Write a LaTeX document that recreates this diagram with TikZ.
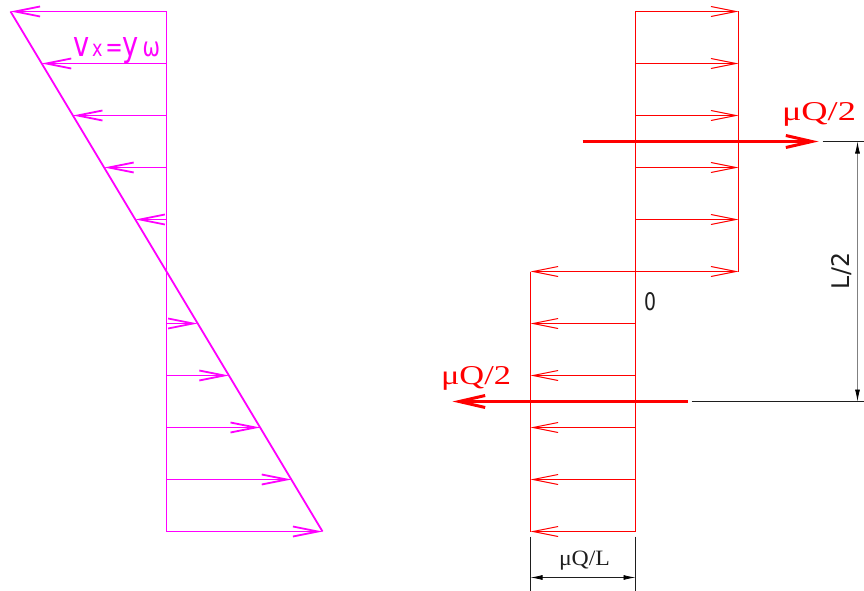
\documentclass[tikz,border=0pt]{standalone}
\usepackage{fontspec}
\setmainfont{Liberation Serif}
\newfontfamily\dvsans{DejaVu Sans}
\usetikzlibrary{arrows.meta}
\definecolor{mag}{RGB}{255,0,255}
\definecolor{rd}{RGB}{255,0,0}
\definecolor{dimgray}{RGB}{30,30,30}
\begin{document}
\begin{tikzpicture}[x=1pt,y=-1pt,
  thinarrow/.style={-{Straight Barb[length=25pt,width=10pt]}},
  magline/.style={color=mag,line width=1.8pt},
  redline/.style={color=rd,line width=1pt},
  bigarrow/.style={color=rd,line width=3pt,-{Straight Barb[length=26pt,width=12pt]}},
  dimline/.style={color=dimgray,line width=0.8pt},
  dimarrow/.style={dimline,{Latex[length=12pt,width=5pt,color=black]}-{Latex[length=12pt,width=5pt,color=black]}},
  lbl/.style={inner sep=0pt,outer sep=0pt}
]
\useasboundingbox (0,0) rectangle (864,591);
\begin{scope}[xshift=0.5pt,yshift=-0.5pt]
% ---------- left: velocity distribution ----------
\coordinate (mtop) at (166,11);
\coordinate (mbot) at (166,531);
\coordinate (dtl) at (10,11);
\coordinate (dbr) at (322,531);
\draw[magline] (mtop) -- (mbot);
\draw[magline] (dtl) -- (dbr);
\foreach \yy in {11,63,115,167,219}{
  \draw[magline,thinarrow] (166,\yy) -- ({166-0.6*(271-\yy)},\yy);
}
\foreach \yy in {323,375,427,479,531}{
  \draw[magline,thinarrow] (166,\yy) -- ({166+0.6*(\yy-271)},\yy);
}

% ---------- right: friction distribution ----------
\coordinate (rtop) at (635,11);
\coordinate (rbot) at (635,531);
\coordinate (urt) at (738,11);
\coordinate (urb) at (738,271);
\coordinate (llt) at (530,271);
\coordinate (llb) at (530,531);
\draw[redline] (rtop) -- (rbot);
\draw[redline] (urt) -- (urb);
\draw[redline] (llt) -- (llb);
\foreach \yy in {11,63,115,167,219,271}{
  \draw[redline,thinarrow] (635,\yy) -- (738,\yy);
}
\foreach \yy in {271,323,375,427,479,531}{
  \draw[redline,thinarrow] (635,\yy) -- (530,\yy);
}

% big resultant arrows
\coordinate (ua) at (582,141);
\coordinate (ub) at (818,141);
\coordinate (la) at (687,401);
\coordinate (lb) at (452,401);
\draw[bigarrow] (ua) -- (ub);
\draw[bigarrow] (la) -- (lb);

% vertical dimension L/2
\coordinate (e1a) at (822,141);
\coordinate (e1b) at (864,141);
\coordinate (e2a) at (691,401);
\coordinate (e2b) at (864,401);
\draw[dimline] (e1a) -- (e1b);
\draw[dimline] (e2a) -- (e2b);
\coordinate (d1) at (857,141);
\coordinate (d2) at (857,401);
\draw[dimarrow,color=black!50] (d1) -- (d2);

% horizontal dimension muQ/L
\coordinate (f1a) at (530,536);
\coordinate (f1b) at (530,591);
\coordinate (f2a) at (635,536);
\coordinate (f2b) at (635,591);
\draw[dimline] (f1a) -- (f1b);
\draw[dimline] (f2a) -- (f2b);
\coordinate (g1) at (530,577);
\coordinate (g2) at (635,577);
\draw[dimarrow] (g1) -- (g2);
\end{scope}

% ---------- labels ----------
\node[lbl,anchor=base west,text=mag] (vlabel) at (73,57)
  {\resizebox{87pt}{19pt}{\dvsans{\fontsize{34}{34}\selectfont v}{\fontsize{22}{22}\selectfont\,x\,}{\fontsize{26}{26}\selectfont =}{\fontsize{34}{34}\selectfont y}{\fontsize{26}{26}\selectfont\,ω}}};
\node[lbl,anchor=base west,text=rd] (qup) at (782,121)
  {\resizebox{74pt}{18pt}{μQ/2}};
\node[lbl,anchor=base west,text=rd] (qdn) at (441,384)
  {\resizebox{70pt}{18pt}{μQ/2}};
\node[lbl,text=dimgray] (zero) at (650,302) {\resizebox{12pt}{18pt}{\dvsans 0}};
\node[lbl,rotate=90,text=dimgray] (lhalf) at (842,271) {\resizebox{36pt}{18pt}{\dvsans L/2}};
\node[lbl,anchor=base west,text=dimgray] (qL) at (559,565)
  {\resizebox{51pt}{14.5pt}{μQ/L}};
\end{tikzpicture}
\end{document}
